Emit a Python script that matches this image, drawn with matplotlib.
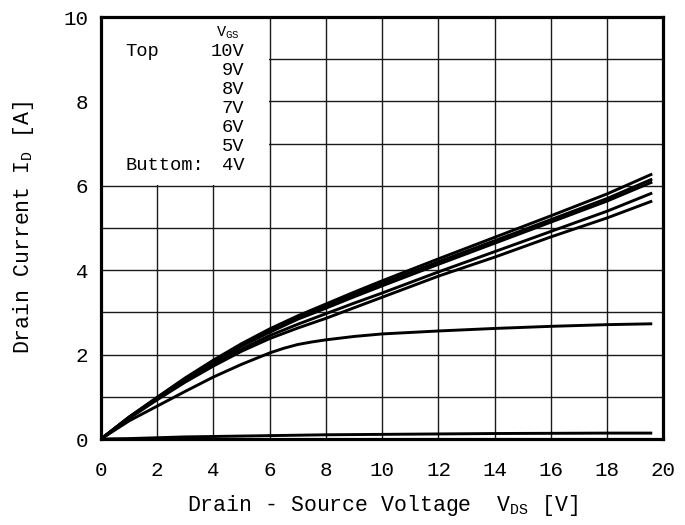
import matplotlib.pyplot as plt
from matplotlib import patches

# output characteristics
vds = [0, 1, 2, 3, 4, 5, 6, 7, 8, 9, 10, 12, 14, 16, 18, 19.6]
id_10v = [0, 0.52, 0.99, 1.45, 1.87, 2.26, 2.61, 2.92, 3.20, 3.48, 3.75, 4.27, 4.78, 5.29, 5.81, 6.28]
id_9v = [0, 0.52, 0.98, 1.43, 1.85, 2.23, 2.57, 2.88, 3.15, 3.42, 3.69, 4.20, 4.70, 5.20, 5.70, 6.16]
id_8v = [0, 0.51, 0.97, 1.41, 1.82, 2.20, 2.53, 2.84, 3.10, 3.37, 3.63, 4.14, 4.64, 5.14, 5.64, 6.09]
id_7v = [0, 0.50, 0.95, 1.38, 1.77, 2.13, 2.45, 2.72, 2.97, 3.22, 3.46, 3.96, 4.44, 4.92, 5.40, 5.83]
id_6v = [0, 0.49, 0.93, 1.35, 1.73, 2.08, 2.38, 2.63, 2.86, 3.11, 3.36, 3.86, 4.31, 4.79, 5.24, 5.64]
id_4v = [0, 0.01, 0.03, 0.05, 0.06, 0.07, 0.08, 0.09, 0.10, 0.105, 0.11, 0.12, 0.13, 0.135, 0.14, 0.14]

# 5V curve has its knee around 7V, read with a finer step there
vds_5v = [0, 1, 2, 3, 4, 5, 6, 6.5, 7, 7.5, 8, 9, 10, 12, 14, 16, 18, 19.6]
id_5v = [0, 0.43, 0.78, 1.13, 1.47, 1.77, 2.04, 2.15, 2.24, 2.30, 2.35, 2.43, 2.49, 2.56, 2.62, 2.67, 2.71, 2.73]

gate_labels = ["10V", "9V", "8V", "7V", "6V", "5V", "4V"]

xticks = list(range(0, 21, 2))
yticks = list(range(0, 11, 2))

plt.rcParams["font.family"] = ["Liberation Mono", "DejaVu Sans Mono"]

fig = plt.figure(figsize=(6.85, 5.25), dpi=100)
ax = fig.add_axes([0.1474, 0.1638, 0.8212, 0.8038])

ax.set_xlim(0, 20)
ax.set_ylim(0, 10)
ax.set_xticks(xticks)
ax.set_yticks(yticks)
ax.set_yticks(range(0, 11, 1), minor=True)
ax.tick_params(axis="both", which="both", length=0, labelsize=15)
ax.tick_params(axis="x", pad=16)
ax.tick_params(axis="y", pad=9)
ax.grid(True, which="both", color="#1a1a1a", lw=1.0)
ax.set_axisbelow(True)
for sp in ax.spines.values():
    sp.set_linewidth(2.3)

# blank box behind the legend text
ax.add_patch(patches.Rectangle((0, 6.03), 5.96, 4.0, facecolor="white",
                               edgecolor="none", zorder=1))

for ids in [id_10v, id_9v, id_8v, id_7v, id_6v, id_4v]:
    ax.plot(vds, ids, color="black", lw=2.1, zorder=3, solid_capstyle="butt")
ax.plot(vds_5v, id_5v, color="black", lw=2.1, zorder=3, solid_capstyle="butt")

# legend text
ax.text(0.226, 0.964, r"V$_{\mathregular{GS}}$", transform=ax.transAxes,
        fontsize=11, ha="center", va="center")
ax.text(0.043, 0.919, "Top", transform=ax.transAxes, fontsize=13.5, va="center")
for i, lab in enumerate(gate_labels):
    ax.text(0.255, 0.919 - i * 0.045, lab, transform=ax.transAxes,
            fontsize=13.5, ha="right", va="center")
ax.text(0.043, 0.919 - 6 * 0.045, "Buttom:", transform=ax.transAxes,
        fontsize=13.5, va="center")

ax.set_xlabel(r"Drain - Source Voltage  V$_{\mathregular{DS}}$ [V]",
              fontsize=15.5, labelpad=9)
ax.set_ylabel(r"Drain Current I$_{\mathregular{D}}$ [A]", fontsize=15.5, labelpad=20)

fig.savefig("out.png", dpi=100)
